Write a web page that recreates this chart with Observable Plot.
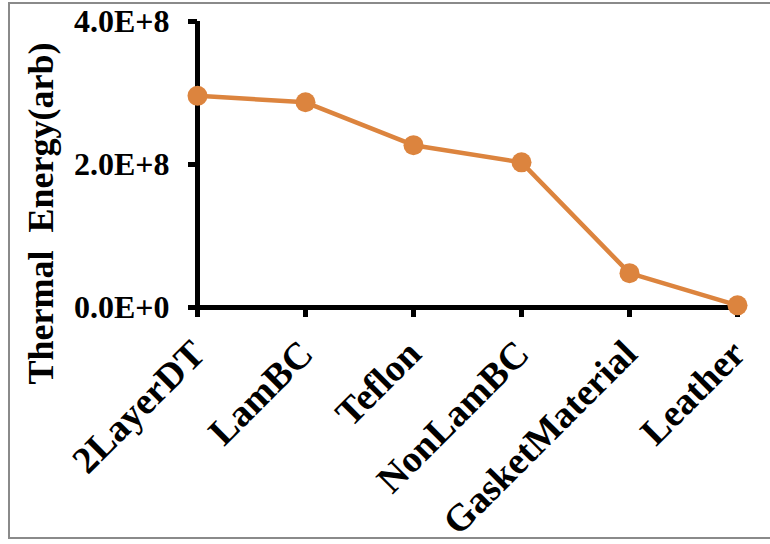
<!DOCTYPE html>
<html>
<head>
<meta charset="utf-8">
<script src="https://cdn.jsdelivr.net/npm/d3@7"></script>
<script src="https://cdn.jsdelivr.net/npm/@observablehq/plot@0.6"></script>
<style>
  html, body { margin: 0; padding: 0; background: #fff; }
  #wrap { position: relative; width: 770px; height: 544px; overflow: hidden; }
  #frame { position: absolute; left: 8px; top: 2px; width: 790px; height: 537px;
           border: 2px solid #8a8a8a; box-sizing: border-box; }
  #chart { position: absolute; left: 0; top: 0; }
  #chart svg { background: transparent; }
  #chart svg text { font-family: "Liberation Serif", "Times New Roman", serif; font-weight: bold; }
</style>
</head>
<body>
<div id="wrap">
  <div id="frame"></div>
  <div id="chart"></div>
</div>
<script>
// Thermal energy measured for each material sample
const materials = ["2LayerDT", "LamBC", "Teflon", "NonLamBC", "GasketMaterial", "Leather"];
const thermalEnergy = [2.96e8, 2.87e8, 2.27e8, 2.03e8, 0.48e8, 0.03e8];
const yTicks = [0, 2e8, 4e8];
const yTickLabels = ["0.0E+0", "2.0E+8", "4.0E+8"];
const yTitle = "Thermal  Energy(arb)";

const rows = materials.map((m, i) => ({material: m, energy: thermalEnergy[i]}));
const orange = "#dc843e";
const font = "Liberation Serif";
const firstMaterial = () => materials[0];

const chart = Plot.plot({
  width: 770,
  height: 544,
  marginLeft: 197,
  marginRight: 33,
  marginTop: 21,
  marginBottom: 237,
  style: {fontFamily: font, fontWeight: "bold", color: "#000", background: "transparent"},
  x: {type: "point", domain: materials, padding: 0, axis: null},
  y: {domain: [0, 4e8], axis: null},
  marks: [
    // value axis: line, ticks and labels
    Plot.ruleX([materials[0]], {stroke: "#000", strokeWidth: 5}),
    Plot.ruleY(yTicks, {x1: firstMaterial, x2: firstMaterial, insetLeft: -9, stroke: "#000", strokeWidth: 5}),
    Plot.text(yTicks, {x: firstMaterial, y: d => d, text: (d, i) => yTickLabels[i],
      textAnchor: "end", dx: -28, fontSize: 32, fontFamily: font, fontWeight: "bold", fill: "#000"}),
    // category axis: line, ticks and rotated labels
    Plot.ruleY([0], {stroke: "#000", strokeWidth: 5}),
    Plot.ruleX(materials, {x: d => d, y1: 0, y2: 0, insetBottom: -10, stroke: "#000", strokeWidth: 5}),
    Plot.text(materials, {x: d => d, y: 0, text: d => d, rotate: -45, textAnchor: "end",
      dx: 1, dy: 40, fontSize: 38, fontFamily: font, fontWeight: "bold", fill: "#000"}),
    // axis title
    Plot.text([yTitle], {frameAnchor: "left", text: d => d, rotate: -90, textAnchor: "middle",
      dx: -156, dy: 49, fontSize: 36, fontFamily: font, fontWeight: "bold", fill: "#000"}),
    // series
    Plot.line(rows, {x: "material", y: "energy", stroke: orange, strokeWidth: 4.5}),
    Plot.dot(rows, {x: "material", y: "energy", r: 10, fill: orange, stroke: null})
  ]
});

document.getElementById("chart").append(chart);
</script>
</body>
</html>
